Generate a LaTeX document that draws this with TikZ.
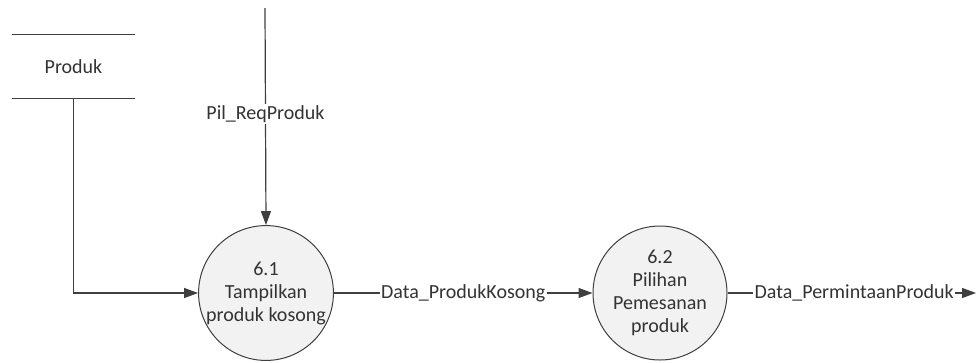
\documentclass[tikz,border=0pt]{standalone}
\usepackage{fontspec}
\setmainfont{Carlito}
\usetikzlibrary{arrows.meta}
\definecolor{linegray}{HTML}{3F3F3F}
\definecolor{procfill}{HTML}{F2F2F2}
\tikzset{
  flow/.style={draw=linegray, line width=1.2pt, -{Triangle[length=14pt,width=10pt]}},
  proc/.style={circle, draw=linegray, line width=1pt, fill=procfill, minimum size=134pt, inner sep=0pt, align=center, font=\fontsize{20}{23}\selectfont, text=black!80},
  lbl/.style={fill=white, inner sep=1.5pt, font=\fontsize{20}{23}\selectfont, text=black!80},
  store/.style={minimum width=123pt, minimum height=63pt, inner sep=0pt, font=\fontsize{20}{23}\selectfont, text=black!80},
  storeline/.style={draw=linegray, line width=1.2pt}
}
\begin{document}
\begin{tikzpicture}[x=1pt,y=-1pt]
\useasboundingbox (0,0) rectangle (979,362);
\node[store] (st) at (73.5,66.5) {Produk};
\draw[storeline] (st.north west) -- (st.north east);
\draw[storeline] (st.south west) -- (st.south east);
\node[proc] (p1) at (266,293) {6.1\\Tampilkan\\produk kosong};
\node[proc] (p2) at (660,293) {6.2\\Pilihan\\Pemesanan\\produk};
\coordinate (src) at (265,8);
\coordinate (sink) at (976,293);
\draw[flow] (src) -- node[lbl, pos=0.49] {Pil\_ReqProduk} (p1.north);
\draw[flow] (st.south) |- (p1.west);
\draw[flow] (p1.east) -- node[lbl] {Data\_ProdukKosong} (p2.west);
\draw[flow] (p2.east) -- node[lbl, pos=0.51] {Data\_PermintaanProduk} (sink);
\end{tikzpicture}
\end{document}
